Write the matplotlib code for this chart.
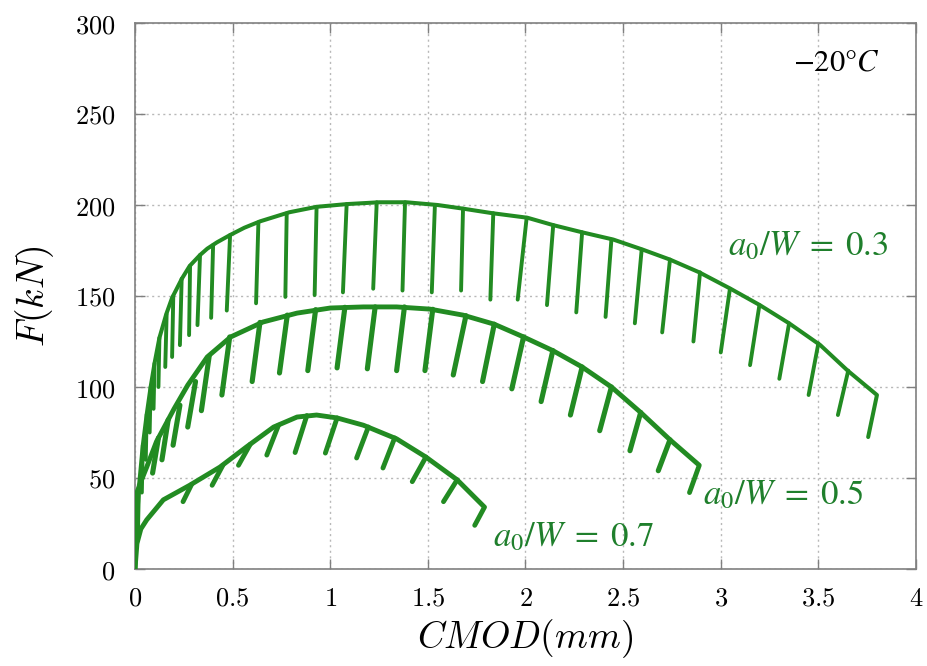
import numpy as np
import matplotlib
matplotlib.use("Agg")
import matplotlib.pyplot as plt
from matplotlib.font_manager import FontProperties

# ---------------- data ----------------
# a0/W = 0.3 : envelope (CMOD mm, F kN)
env03_c = [0, 0.01, 0.02, 0.04, 0.06, 0.08, 0.10, 0.125, 0.16, 0.19, 0.24, 0.28, 0.333, 0.37, 0.42, 0.487,
           0.56, 0.64, 0.79, 0.93, 1.085, 1.25, 1.39, 1.55, 1.68, 1.83, 2.01, 2.14, 2.29, 2.45, 2.60,
           2.74, 2.89, 3.05, 3.20, 3.35, 3.51, 3.65, 3.80, 3.755]
env03_f = [0, 25, 45, 68, 85, 100, 113, 127, 140, 149, 159.5, 166.5, 172.5, 176, 179.5, 183.5,
           187.5, 191, 196, 199, 200.5, 201.5, 201.5, 200, 198, 195.5, 193, 189, 185, 181, 175.5,
           170, 163, 154, 145, 135, 123, 109, 95.6, 72.5]
# unloading branches: top (c, F) -> bottom (c, F)
unl03_ct = [0.02, 0.04, 0.06, 0.08, 0.10, 0.125, 0.162, 0.196, 0.239, 0.282, 0.333, 0.40, 0.487, 0.632,
            0.777, 0.93, 1.084, 1.238, 1.383, 1.536, 1.68, 1.835, 2.006, 2.142, 2.29, 2.44, 2.595,
            2.74, 2.894, 3.047, 3.198, 3.35, 3.50, 3.653]
unl03_ft = [45, 68, 85, 100, 113, 127, 140, 150, 159.5, 166.5, 172.5, 178, 183.5, 190.5,
            195.5, 199, 200.5, 201.5, 201.5, 200, 198, 195.5, 193, 189, 185, 181, 175.5,
            170, 163, 154, 145, 135, 124, 109]
unl03_cb = [0.015, 0.035, 0.055, 0.075, 0.095, 0.12, 0.155, 0.19, 0.23, 0.277, 0.32, 0.39, 0.47, 0.62,
            0.77, 0.92, 1.065, 1.22, 1.37, 1.52, 1.67, 1.82, 1.96, 2.11, 2.26, 2.41, 2.56,
            2.70, 2.86, 3.0, 3.15, 3.30, 3.45, 3.60]
unl03_fb = [20, 42, 60, 75, 88, 100, 111, 116.5, 123, 128.5, 134, 138, 142, 146,
            149.5, 150.5, 152, 154, 153, 152, 153, 148, 148, 145, 141, 138.5, 135,
            130, 125, 119, 112, 104.5, 95.6, 84.6]

# a0/W = 0.5
env05_c = [0, 0.005, 0.01, 0.03, 0.06, 0.11, 0.15, 0.20, 0.27, 0.37, 0.49, 0.655, 0.83, 1.0, 1.17,
           1.34, 1.51, 1.68, 1.84, 1.99, 2.14, 2.29, 2.44, 2.59, 2.74, 2.89, 2.84]
env05_f = [0, 25, 42, 48, 56, 70, 78, 88, 101, 116.5, 127.5, 135.7, 140.6, 143.4, 144,
           144, 142.8, 139.5, 134.5, 127.5, 120, 111, 100, 86, 71, 57, 42]
unl05_ct = [0.12, 0.17, 0.23, 0.31, 0.38, 0.485, 0.64, 0.78, 0.925, 1.075, 1.23, 1.38, 1.525,
            1.695, 1.84, 1.99, 2.14, 2.29, 2.44, 2.59, 2.74]
unl05_ft = [72, 82, 90, 103, 117, 127.5, 135.5, 139.5, 142.5, 143.8, 144, 144, 142.7,
            139.2, 134.5, 127.5, 120, 111, 100, 86, 71]
unl05_cb = [0.09, 0.138, 0.195, 0.27, 0.34, 0.445, 0.60, 0.74, 0.885, 1.035, 1.19, 1.34, 1.485,
            1.63, 1.78, 1.93, 2.08, 2.23, 2.38, 2.535, 2.68]
unl05_fb = [52.7, 60, 68, 78, 87, 95.6, 103, 107.7, 109, 110.5, 110, 109, 109,
            106.6, 103, 99, 92, 84.6, 76, 65, 54]

# a0/W = 0.7
env07_c = [0, 0.01, 0.03, 0.06, 0.145, 0.28, 0.435, 0.57, 0.71, 0.83, 0.93, 1.035, 1.17, 1.34,
           1.49, 1.65, 1.79, 1.74]
env07_f = [0, 14, 22, 27, 38, 46, 56, 67, 78, 83.5, 84.6, 83, 79, 71.5,
           61.5, 49, 34, 24]
unl07_ct = [0.29, 0.45, 0.59, 0.735, 0.88, 1.035, 1.195, 1.33, 1.49, 1.65]
unl07_ft = [46.5, 57, 68.5, 79, 84.3, 83, 78, 72, 61.5, 49]
unl07_cb = [0.246, 0.395, 0.53, 0.675, 0.82, 0.975, 1.135, 1.27, 1.42, 1.58]
unl07_fb = [37, 46, 57, 62.6, 64, 63.7, 61, 55.5, 48, 37]

xticks = [0, 0.5, 1, 1.5, 2, 2.5, 3, 3.5, 4]
xticklabels = ['0', '0.5', '1', '1.5', '2', '2.5', '3', '3.5', '4']
yticks = [0, 50, 100, 150, 200, 250, 300]
yticklabels = ['0', '50', '100', '150', '200', '250', '300']

labels = [r'$a_0/W\;=\;0.3$', r'$a_0/W\;=\;0.5$', r'$a_0/W\;=\;0.7$']
temp_label = r'$-20°C$'

# ---------------- plot ----------------
plt.rcParams['mathtext.fontset'] = 'cm'
green = '#228B22'
text_green = '#1f7f2c'
W, H = 928, 666

fig = plt.figure(figsize=(W / 100, H / 100), dpi=100)
ax = fig.add_axes([135 / W, 1 - 569 / H, (916 - 135) / W, (569 - 23) / H])

def draw(ec, ef, ct, ft, cb, fb, lw_env, lw_unl):
    for a, b, c, d in zip(ct, ft, cb, fb):
        ax.plot([a, c], [b, d], color=green, lw=lw_unl, solid_capstyle='round', zorder=3)
    ax.plot(ec, ef, color=green, lw=lw_env, solid_capstyle='round', solid_joinstyle='round', zorder=4)

draw(env03_c, env03_f, unl03_ct, unl03_ft, unl03_cb, unl03_fb, 2.9, 2.8)
draw(env05_c, env05_f, unl05_ct, unl05_ft, unl05_cb, unl05_fb, 3.5, 3.7)
draw(env07_c, env07_f, unl07_ct, unl07_ft, unl07_cb, unl07_fb, 3.5, 3.5)

ax.set_xlim(0, 4)
ax.set_ylim(0, 300)
ax.set_xticks(xticks)
ax.set_yticks(yticks)
ax.set_xticklabels(['$' + s + '$' for s in xticklabels], fontsize=19)
ax.set_yticklabels(['$' + s + '$' for s in yticklabels], fontsize=19)
ax.tick_params(direction='in', length=7, width=1, color='#808080',
               top=True, right=True)
ax.tick_params(axis='x', pad=12)
ax.tick_params(axis='y', pad=14)
for s in ax.spines.values():
    s.set_color('#808080')
    s.set_linewidth(1.2)
ax.grid(True, linestyle=(0, (1.5, 2.5)), color='#b8b8b8', lw=1)
ax.set_axisbelow(True)

ax.set_xlabel(r'$CMOD(mm)$', fontsize=27, labelpad=4)
ax.set_ylabel(r'$F(kN)$', fontsize=27, labelpad=14)

fp = FontProperties(size=25, math_fontfamily='stix')
fpt = FontProperties(size=22, math_fontfamily='stix')
ax.text(728, H - 245, labels[0], transform=None, fontproperties=fp, color=text_green, va='center')
ax.text(703, H - 494, labels[1], transform=None, fontproperties=fp, color=text_green, va='center')
ax.text(493, H - 536, labels[2], transform=None, fontproperties=fp, color=text_green, va='center')
ax.text(793, H - 62, temp_label, transform=None, fontproperties=fpt, color='black', va='center')

fig.savefig('out.png', dpi=100)
